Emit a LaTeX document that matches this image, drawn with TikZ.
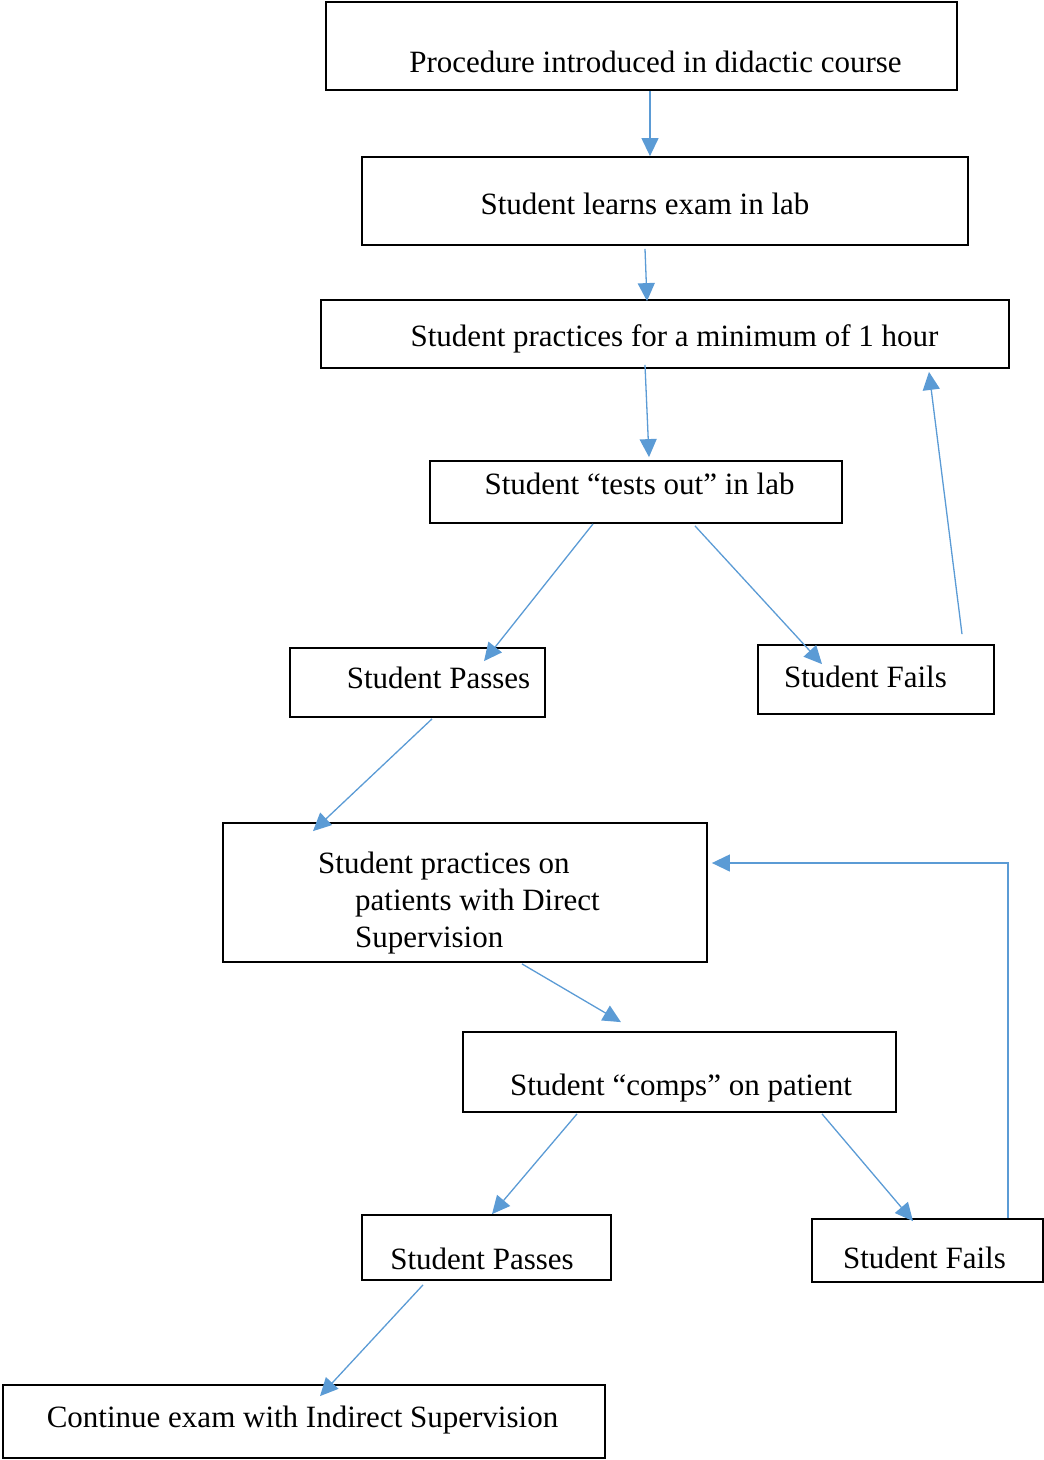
\documentclass[tikz,border=0pt]{standalone}
\usepackage{fontspec}
\setmainfont{Liberation Serif}
\usetikzlibrary{arrows.meta}
\definecolor{arrblue}{HTML}{5B9BD5}
\tikzset{
  box/.style={draw=black, line width=1.8pt, inner sep=0pt},
  lbl/.style={inner sep=0pt, anchor=base, font=\fontsize{31}{37}\selectfont},
  lbll/.style={inner sep=0pt, anchor=base west, font=\fontsize{31}{37}\selectfont},
  conn/.style={draw=arrblue, line width=1.3pt, -{Triangle[length=18pt,width=17pt]}},
}
\begin{document}
\begin{tikzpicture}[x=1pt,y=-1pt]
\useasboundingbox (0,0) rectangle (1044,1460);
% boxes
\node[box, minimum width=631pt, minimum height=88pt] (b1) at (641.5,46) {};
\node[box, minimum width=606pt, minimum height=88pt] (b2) at (665,201) {};
\node[box, minimum width=688pt, minimum height=68pt] (b3) at (665,334) {};
\node[box, minimum width=412pt, minimum height=62pt] (b4) at (636,492) {};
\node[box, minimum width=255pt, minimum height=69pt] (b5) at (417.5,682.5) {};
\node[box, minimum width=236pt, minimum height=69pt] (b6) at (876,679.5) {};
\node[box, minimum width=484pt, minimum height=139pt] (b7) at (465,892.5) {};
\node[box, minimum width=433pt, minimum height=80pt] (b8) at (679.5,1072) {};
\node[box, minimum width=249pt, minimum height=65pt] (b9) at (486.5,1247.5) {};
\node[box, minimum width=231pt, minimum height=63pt] (b10) at (927.5,1250.5) {};
\node[box, minimum width=602pt, minimum height=73pt] (b11) at (304,1421.5) {};
% texts
\node[lbl] (t1) at (655.5,72) {Procedure introduced in didactic course};
\node[lbl] (t2) at (645,214) {Student learns exam in lab};
\node[lbl] (t3) at (674.5,346) {Student practices for a minimum of 1 hour};
\node[lbl] (t4) at (639.5,494) {Student “tests out” in lab};
\node[lbl] (t5) at (438.5,688) {Student Passes};
\node[lbl] (t6) at (865.5,687) {Student Fails};
\node[lbll] (t7a) at (318,873) {Student practices on};
\node[lbll] (t7b) at (355,910) {patients with Direct};
\node[lbll] (t7c) at (355,947) {Supervision};
\node[lbl] (t8) at (681,1095) {Student “comps” on patient};
\node[lbl] (t9) at (482,1269) {Student Passes};
\node[lbl] (t10) at (924.5,1268) {Student Fails};
\node[lbl] (t11) at (302.5,1427) {Continue exam with Indirect Supervision};
% connectors
\draw[conn] ([xshift=8.5pt]b1.south) -- ([xshift=-15pt]b2.north);
\draw[conn] ([xshift=-20pt,yshift=-3pt]b2.south) -- ([xshift=-18pt,yshift=-2pt]b3.north);
\draw[conn] ([xshift=-20pt,yshift=4pt]b3.south) -- ([xshift=13pt,yshift=3pt]b4.north);
\draw[conn] ([xshift=-43pt]b4.south) -- ([xshift=66.5pt,yshift=-14pt]b5.north);
\draw[conn] ([xshift=59pt,yshift=-2pt]b4.south) -- ([xshift=-54pt,yshift=-20pt]b6.north);
\draw[conn] ([xshift=86pt,yshift=10pt]b6.north) -- ([xshift=264pt,yshift=-3pt]b3.south);
\draw[conn] ([xshift=14.5pt,yshift=-1pt]b5.south) -- ([xshift=-152pt,yshift=-9pt]b7.north);
\draw[conn] ([xshift=57pt,yshift=-1pt]b7.south) -- ([xshift=-58.5pt,yshift=9pt]b8.north);
\draw[conn] ([xshift=-102.5pt,yshift=-1pt]b8.south) -- ([xshift=5.5pt]b9.north);
\draw[conn] ([xshift=142.5pt,yshift=-1pt]b8.south) -- ([xshift=-14.5pt,yshift=-3pt]b10.north);
\draw[conn] ([xshift=80.5pt]b10.north) |- ([xshift=4pt,yshift=29.5pt]b7.east);
\draw[conn] ([xshift=-63.5pt,yshift=-4pt]b9.south) -- ([xshift=16pt,yshift=-12pt]b11.north);
\end{tikzpicture}
\end{document}
